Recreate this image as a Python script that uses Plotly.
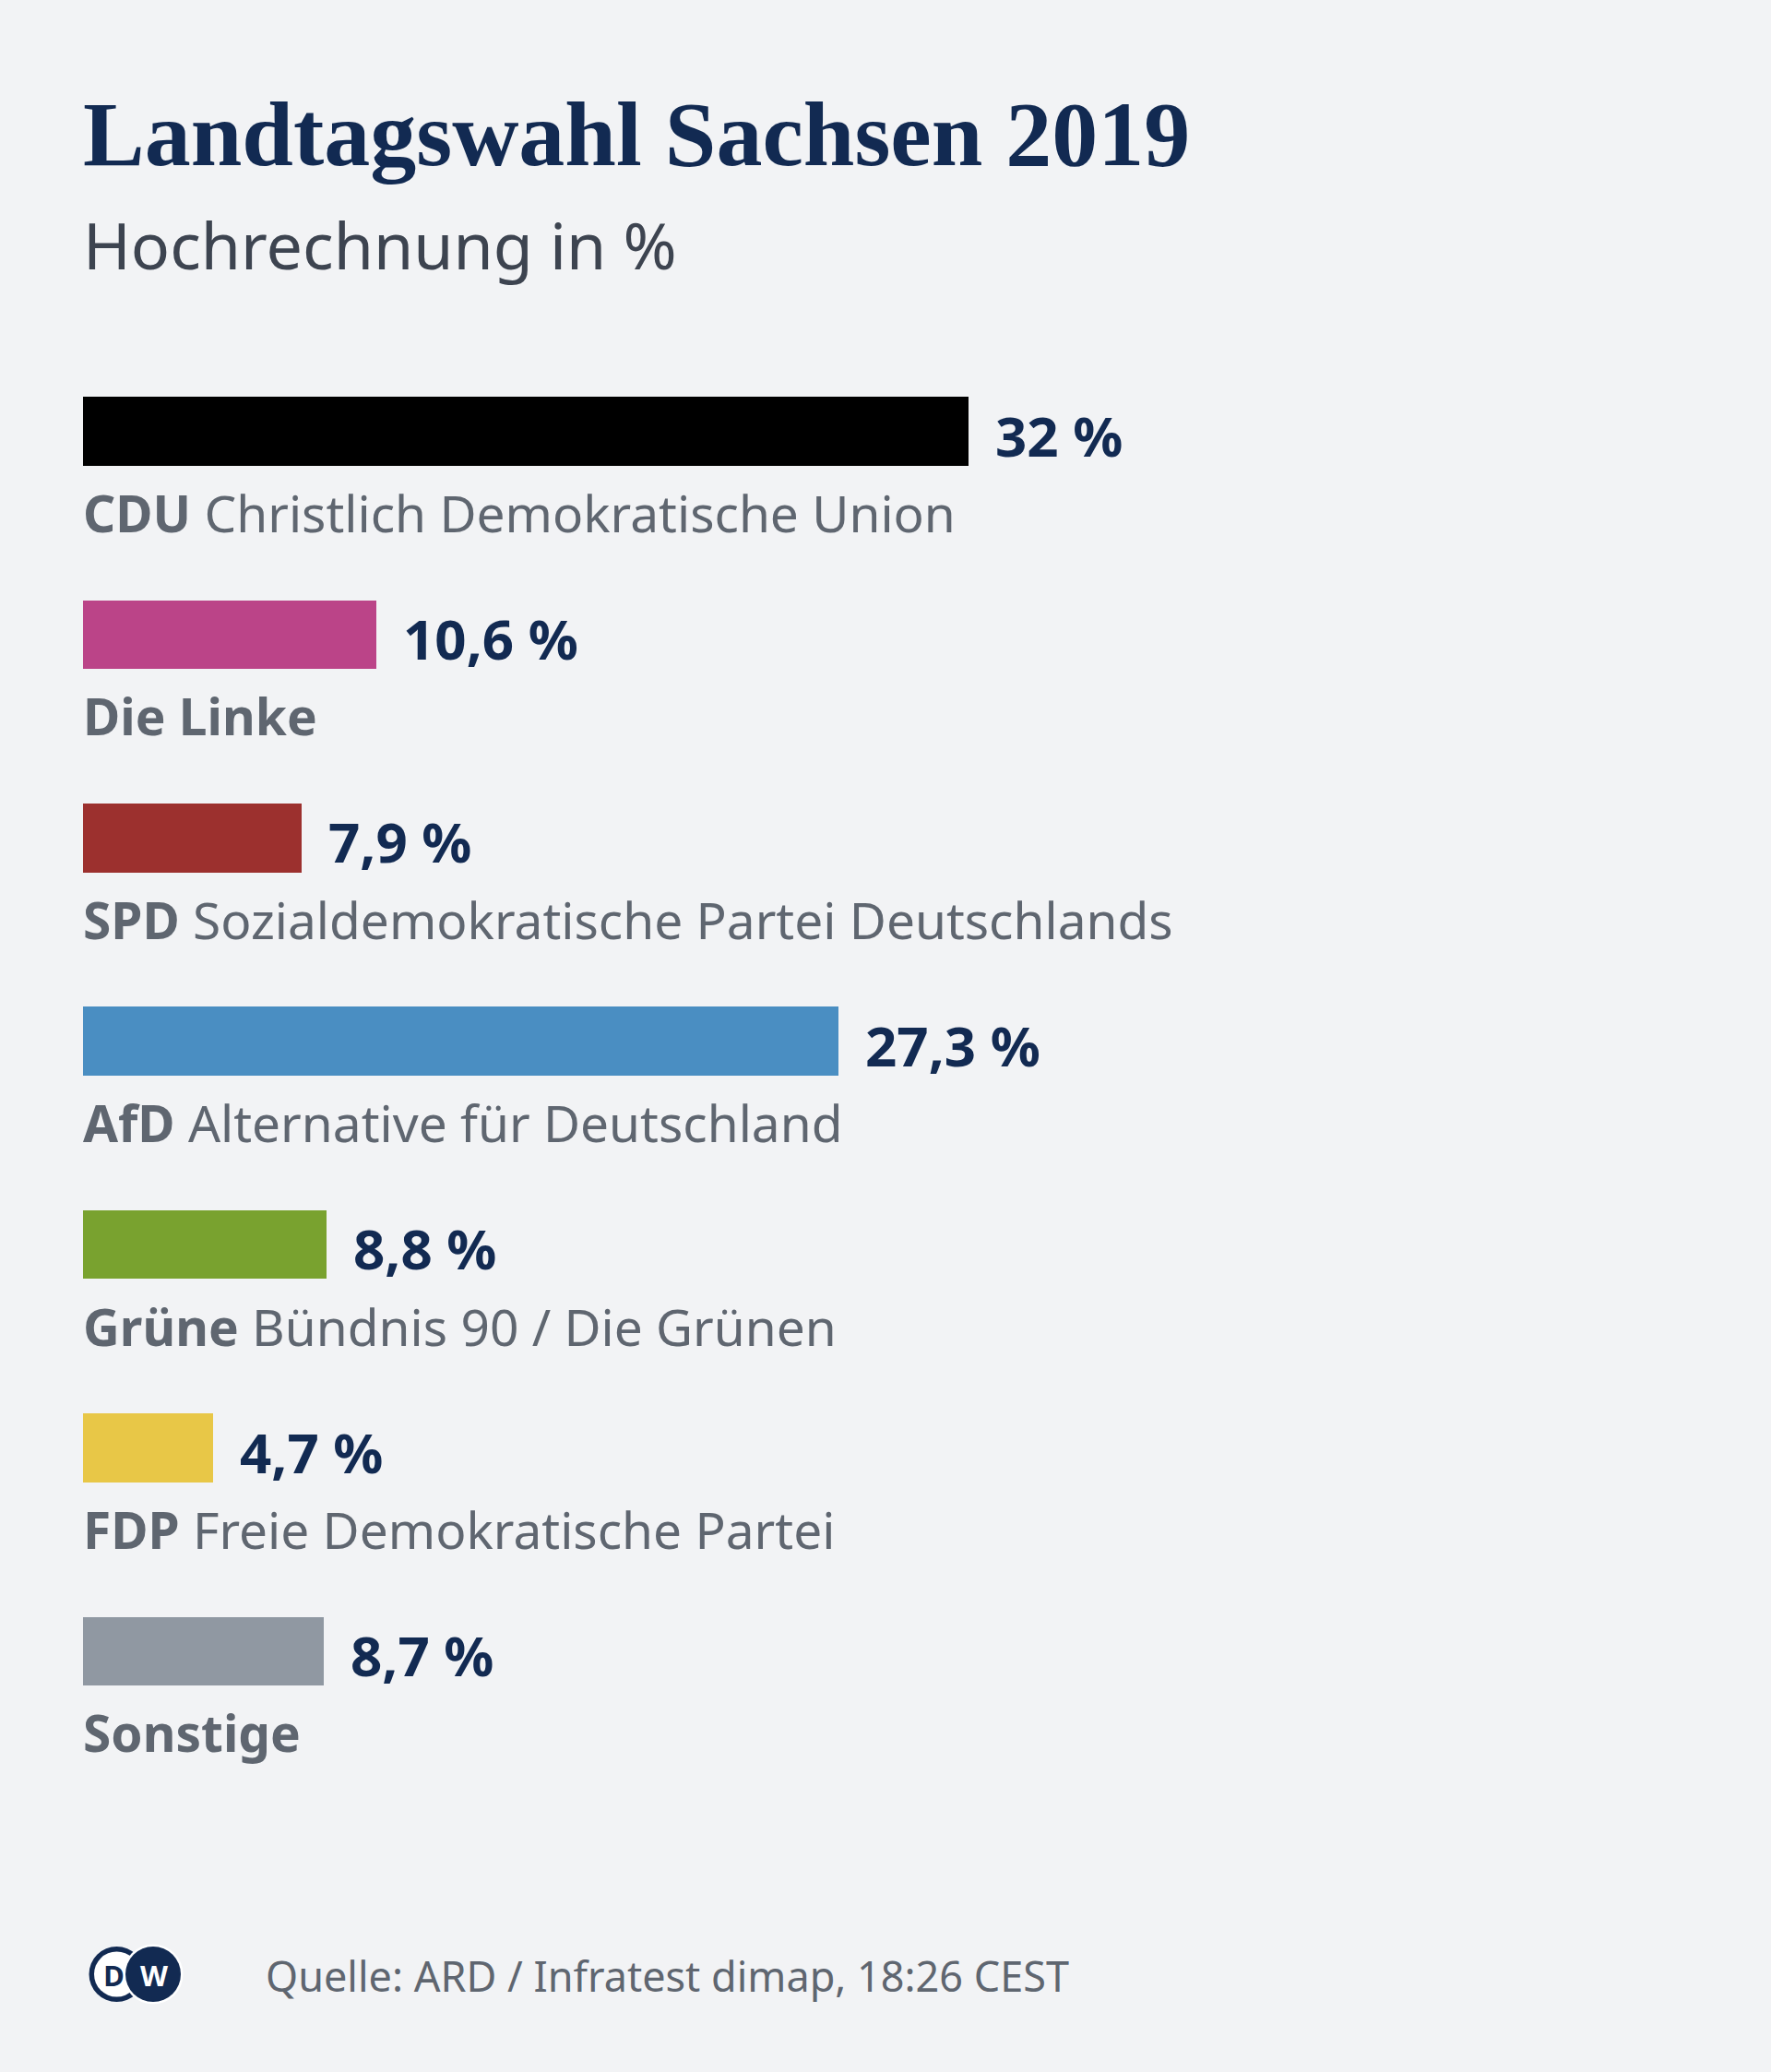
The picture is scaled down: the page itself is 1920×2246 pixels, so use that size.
import plotly.graph_objects as go

# ---- data ----
parties = ["CDU", "Die Linke", "SPD", "AfD", "Grüne", "FDP", "Sonstige"]
full_names = ["Christlich Demokratische Union", "", "Sozialdemokratische Partei Deutschlands",
              "Alternative für Deutschland", "Bündnis 90 / Die Grünen", "Freie Demokratische Partei", ""]
values = [32, 10.6, 7.9, 27.3, 8.8, 4.7, 8.7]
value_labels = ["32 %", "10,6 %", "7,9 %", "27,3 %", "8,8 %", "4,7 %", "8,7 %"]
colors = ["#000000", "#bb4488", "#9c302e", "#4a8ec2", "#79a22f", "#e8c747", "#9098a2"]

title = "Landtagswahl Sachsen 2019"
subtitle = "Hochrechnung in %"
source = "Quelle: ARD / Infratest dimap, 18:26 CEST"

W, H = 1920, 2246
BG = "#f2f3f5"
NAVY = "#122a52"
GRAY = "#5f6670"

fig = go.Figure()
fig.add_trace(go.Bar(
    x=values, y=parties, orientation="h",
    marker=dict(color=colors, line=dict(width=0)),
    width=74.5 / 220.4, hoverinfo="skip",
))

# value labels
for p, v, t in zip(parties, values, value_labels):
    fig.add_annotation(x=v, y=p, xref="x", yref="y", text=f"<b>{t}</b>", showarrow=False,
                       xanchor="left", yanchor="middle", xshift=27, yshift=-4,
                       font=dict(family="Noto Sans", size=60, color=NAVY))

# party labels
for p, n in zip(parties, full_names):
    txt = f"<b>{p}</b>" + (f" {n}" if n else "")
    fig.add_annotation(x=0, y=p, xref="x", yref="y", text=txt, showarrow=False,
                       xanchor="left", yanchor="middle", xshift=-2, yshift=-88,
                       font=dict(family="Noto Sans", size=55, color=GRAY))

def py(pix):
    return 1 - pix / H

fig.add_annotation(x=88 / W, y=py(146), xref="paper", yref="paper", text=f"<b>{title}</b>",
                   showarrow=False, xanchor="left", yanchor="middle",
                   font=dict(family="Liberation Serif", size=100, color=NAVY))
fig.add_annotation(x=88 / W, y=py(265), xref="paper", yref="paper", text=subtitle,
                   showarrow=False, xanchor="left", yanchor="middle",
                   font=dict(family="Noto Sans", size=70, color="#3d4450"))
fig.add_annotation(x=286 / W, y=py(2141), xref="paper", yref="paper", text=source,
                   showarrow=False, xanchor="left", yanchor="middle",
                   font=dict(family="Noto Sans", size=45, color=GRAY))

# DW logo
def circle(cx, cy, r, color):
    fig.add_shape(type="circle", xref="paper", yref="paper",
                  x0=(cx - r) / W, x1=(cx + r) / W, y0=py(cy + r), y1=py(cy - r),
                  fillcolor=color, line=dict(width=0), layer="above")

circle(126.5, 2140, 30, NAVY)
circle(126.5, 2140, 24.5, "#ffffff")
circle(166, 2140, 32.5, "#ffffff")
circle(166, 2140, 30, NAVY)
fig.add_annotation(x=123.5 / W, y=py(2141), xref="paper", yref="paper", text="<b>D</b>",
                   showarrow=False, xanchor="center", yanchor="middle",
                   font=dict(family="Open Sans", size=31, color=NAVY))
fig.add_annotation(x=167 / W, y=py(2141), xref="paper", yref="paper", text="<b>W</b>",
                   showarrow=False, xanchor="center", yanchor="middle",
                   font=dict(family="Open Sans", size=31, color="#ffffff"))

# axes: 30 px per %, x=0 at 90 px; rows 220.4 px apart, first centred at 467.5 px
x_lo = -90 / 30
x_hi = x_lo + W / 30
y_top = -467.5 / 220.4
y_bot = y_top + H / 220.4
fig.update_layout(
    width=W, height=H,
    margin=dict(l=0, r=0, t=0, b=0),
    paper_bgcolor=BG, plot_bgcolor=BG,
    showlegend=False,
    xaxis=dict(range=[x_lo, x_hi], visible=False, fixedrange=True),
    yaxis=dict(range=[y_bot, y_top], visible=False, type="category",
               categoryorder="array", categoryarray=parties, fixedrange=True),
    bargap=0,
)

fig.write_html("out.html", config={"displayModeBar": False})
